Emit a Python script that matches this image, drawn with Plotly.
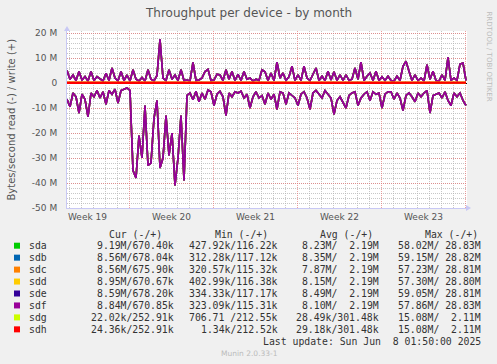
import pandas as pd
import plotly.graph_objects as go

# ---------------- data ----------------
devices = ["sda", "sdb", "sdc", "sdd", "sde", "sdf", "sdg", "sdh"]
colors = ["#00CC00", "#0066B3", "#FF8000", "#FFCC00", "#330099", "#990099", "#CCFF00", "#FF0000"]

# RAID member disks (sda..sdf) - MB/s, 6-hour samples; read is drawn negative
raid_read_mb = [
    -6.5, -9.5, -4.0, -5.5, -12.0, -4.5, -6.5, -13.5, -4.0, -5.5,
    -3.0, -6.0, -3.5, -8.5, -3.0, -4.5, -2.5, -8.0, -3.0, -2.5,
    -2.0, -3.0,
    -35, -38, -21, -30, -9, -33, -32, -14, -7, -34,
    -30, -13, -29, -20, -41, -30, -13, -39, -5,
    -4.0, -6.7, -3.3, -7.5, -4.0, -6.5, -2.8, -3.5, -9.0, -4.5,
    -3.3, -5.5, -13.0, -4.0, -5.5, -3.5, -4.0, -3.3, -6.0, -4.5,
    -10.0, -5.5, -3.5, -6.0, -5.0, -8.5, -4.0, -6.5, -4.5, -10.5,
    -3.5, -4.0, -8.5, -4.0, -5.0, -6.0, -9.0, -4.5, -3.5, -6.0,
    -10.5, -4.0, -3.0, -4.5, -6.0, -3.0, -4.5, -6.0, -12.5, -7.0,
    -5.5, -7.5, -10.0, -5.0, -4.0, -3.5, -9.0, -6.0, -4.5, -3.5,
    -7.0, -3.5, -4.5, -4.0, -10.0, -4.5, -3.5, -3.5, -6.5, -4.0,
    -6.0, -11.0, -5.0, -4.0, -5.5, -7.5, -4.0, -5.5, -4.0, -3.0,
    -12.0, -5.0, -4.5, -4.0, -6.0, -3.5, -7.0, -9.0, -4.0, -5.5,
    -4.0, -7.0, -9.0,
]
raid_write_mb = [
    5.0, 1.5, 3.2, 1.0, 4.6, 1.2, 2.6, 0.8, 4.6, 1.0,
    2.6, 1.5, 0.8, 3.9, 1.0, 6.0, 2.0, 0.8, 4.6, 1.0,
    3.2, 0.8, 5.3, 1.5, 0.8, 2.2, 0.8, 5.3, 1.5, 0.8,
    3.0, 17.5, 2.0, 1.0, 5.3, 1.5, 3.2, 1.0, 5.3, 1.0,
    1.2,
    0.8, 8.2, 1.0, 1.2, 2.0, 4.6, 5.5, 1.0, 1.2, 3.5,
    3.2, 1.0, 5.3, 1.5, 4.6, 1.0, 3.5, 1.0, 4.6, 1.5,
    2.0, 0.8, 1.5, 1.0, 5.3, 4.5, 1.0, 4.0, 1.0, 8.3,
    2.0, 4.0, 1.0, 2.5, 6.7, 1.0, 3.3, 1.0, 6.7, 2.0,
    1.0, 3.3, 6.0, 1.0, 2.7, 1.0, 4.7, 1.2, 4.5, 1.0,
    3.3, 1.0, 3.3, 1.0, 1.5, 6.0, 1.5, 8.3, 1.0, 2.7,
    4.0, 1.0, 4.7, 1.0, 2.5, 1.0, 2.7, 1.0, 0.8, 2.7,
    1.0, 6.7, 8.7, 4.7, 1.0, 3.3, 1.0, 2.0, 0.8, 7.3,
    1.5, 4.7, 1.0, 0.8, 3.3, 1.0, 10.3, 1.0, 2.0, 1.0,
    7.6, 8.0, 1.0,
]

# system disks (sdg, sdh) - MB/s, daily samples
sdg_read_mb = [-0.02, -0.03, -0.02, -0.03, -0.02, -0.03, -0.02, -0.03, -0.03, -0.02,
               -0.03, -0.02, -0.03, -0.02, -0.03, -0.02, -0.03, -0.02, -0.03, -0.02,
               -0.03, -0.02, -0.03, -0.02, -0.03, -0.02, -0.03, -0.02, -0.03, -0.02,
               -0.03, -0.02, -0.03, -0.02, -0.02]
sdg_write_mb = [0.30, 0.29, 0.31, 0.30, 0.30, 0.32, 0.29, 0.30, 0.31, 0.30,
                0.29, 0.30, 0.31, 0.30, 0.30, 0.29, 0.31, 0.30, 0.30, 0.32,
                0.30, 0.29, 0.30, 0.31, 0.30, 0.30, 0.29, 0.31, 0.30, 0.30,
                0.31, 0.30, 0.29, 0.30, 0.25]
sdh_read_mb = [-0.03, -0.02, -0.03, -0.03, -0.02, -0.03, -0.03, -0.03, -0.03, -0.02,
               -0.03, -0.03, -0.02, -0.03, -0.03, -0.02, -0.03, -0.03, -0.02, -0.03,
               -0.03, -0.02, -0.03, -0.03, -0.02, -0.03, -0.03, -0.02, -0.03, -0.03,
               -0.02, -0.03, -0.03, -0.02, -0.02]
sdh_write_mb = [0.30, 0.30, 0.29, 0.31, 0.30, 0.30, 0.32, 0.30, 0.29, 0.30,
                0.31, 0.30, 0.30, 0.29, 0.31, 0.30, 0.30, 0.32, 0.29, 0.30,
                0.30, 0.31, 0.30, 0.29, 0.30, 0.30, 0.31, 0.30, 0.30, 0.29,
                0.30, 0.31, 0.30, 0.30, 0.25]

# y ticks
y_tick_vals = [20, 10, 0, -10, -20, -30, -40, -50]
y_tick_text = ["20 M", "10 M", "0", "-10 M", "-20 M", "-30 M", "-40 M", "-50 M"]
week_labels = ["Week 19", "Week 20", "Week 21", "Week 22", "Week 23"]

# legend table (text)
cur_vals = ["9.19M/670.40k", "8.56M/678.04k", "8.56M/675.90k", "8.95M/670.67k",
            "8.59M/678.20k", "8.84M/670.85k", "22.02k/252.91k", "24.36k/252.91k"]
min_vals = ["427.92k/116.22k", "312.28k/117.12k", "320.57k/115.32k", "402.99k/116.38k",
            "334.33k/117.17k", "323.09k/115.31k", "706.71 /212.55k", "1.34k/212.52k"]
avg_vals = ["8.23M/  2.19M", "8.35M/  2.19M", "7.87M/  2.19M", "8.15M/  2.19M",
            "8.49M/  2.19M", "8.10M/  2.19M", "28.49k/301.48k", "29.18k/301.48k"]
max_vals = ["58.02M/ 28.83M", "59.15M/ 28.82M", "57.23M/ 28.81M", "57.30M/ 28.80M",
            "59.05M/ 28.81M", "57.86M/ 28.83M", "15.08M/  2.11M", "15.08M/  2.11M"]
headers = ["Cur (-/+)", "Min (-/+)", "Avg (-/+)", "Max (-/+)"]
last_update = "Last update: Sun Jun  8 01:50:00 2025"
title_text = "Throughput per device - by month"
y_title = "Bytes/second read (-) / write (+)"
side_text = "RRDTOOL / TOBI OETIKER"
footer_text = "Munin 2.0.33-1"

# ---------------- time axes ----------------
t_raid = pd.date_range("2025-05-05 19:30", periods=len(raid_read_mb), freq="6h")
t_small = pd.date_range(end="2025-06-08 01:30", periods=len(sdh_read_mb), freq="D")
week_centers = pd.date_range("2025-05-07 12:00", periods=len(week_labels), freq="7D")
x_range = ["2025-05-05 19:30", "2025-06-08 03:30"]

# ---------------- layout geometry (pixels) ----------------
W, H = 497, 364
L, R, T, B = 67, 467, 31, 208


def xp(px):
    return (px - L) / (R - L)


def yp(py):
    return (B - py) / (B - T)


def nb(s):
    return s.replace(" ", "\u00a0")


fig = go.Figure()

series = {}
for d in devices[:6]:
    series[d] = (t_raid, raid_read_mb, raid_write_mb)
series["sdg"] = (t_small, sdg_read_mb, sdg_write_mb)
series["sdh"] = (t_small, sdh_read_mb, sdh_write_mb)

for d, c in zip(devices, colors):
    tx, rd, wr = series[d]
    lw = 1.6
    fig.add_trace(go.Scatter(x=tx, y=rd, mode="lines", line=dict(color=c, width=lw),
                             name=d, showlegend=False, hoverinfo="skip"))
    fig.add_trace(go.Scatter(x=tx, y=wr, mode="lines", line=dict(color=c, width=lw),
                             name=d, showlegend=False, hoverinfo="skip"))

minor_grid = "rgba(180,180,180,0.75)"
major_grid = "rgba(230,120,120,0.7)"
axis_line = "#C8C8F4"
tick_font = dict(family="DejaVu Sans", size=9, color="#555555")

fig.update_layout(
    width=W, height=H,
    margin=dict(l=L, r=W - R, t=T, b=H - B, pad=0),
    paper_bgcolor="#F0F0F0",
    plot_bgcolor="#FFFFFF",
    showlegend=False,
    xaxis=dict(
        type="date", range=x_range,
        tickmode="linear", tick0="2025-05-04", dtick=7 * 86400000,
        showticklabels=False, ticks="",
        showgrid=True, gridcolor=major_grid, griddash="1px,1px", gridwidth=1,
        minor=dict(tickmode="linear", tick0="2025-05-04", dtick=86400000,
                   showgrid=True, gridcolor=minor_grid, griddash="1px,1px", ticks=""),
        showline=True, linecolor=axis_line, linewidth=1,
        zeroline=False, fixedrange=True,
    ),
    yaxis=dict(
        range=[-50, 20.8],
        tickmode="array", tickvals=y_tick_vals, ticktext=y_tick_text,
        tickfont=tick_font, ticks="", ticklabelstandoff=7,
        showgrid=True, gridcolor=major_grid, griddash="1px,1px", gridwidth=1,
        minor=dict(tickmode="linear", tick0=0, dtick=2,
                   showgrid=True, gridcolor=minor_grid, griddash="1px,1px", ticks=""),
        showline=True, linecolor=axis_line, linewidth=1,
        zeroline=True, zerolinecolor="#000000", zerolinewidth=1, fixedrange=True,
    ),
)

ann = []
# week labels
for lab, tc in zip(week_labels, week_centers):
    ann.append(dict(x=tc, xref="x", y=yp(216.5), yref="paper", text=lab, showarrow=False,
                    xanchor="center", yanchor="middle", font=tick_font))
# title
ann.append(dict(x=xp(248), y=yp(13), xref="paper", yref="paper", text=title_text,
                showarrow=False, xanchor="center", yanchor="middle",
                font=dict(family="DejaVu Sans", size=12, color="#555555")))
# y title
ann.append(dict(x=xp(11.5), y=yp(120), xref="paper", yref="paper", text=y_title,
                showarrow=False, xanchor="center", yanchor="middle", textangle=-90,
                font=dict(family="DejaVu Sans", size=10, color="#555555")))
# side text
ann.append(dict(x=xp(488.5), y=yp(56), xref="paper", yref="paper", text=side_text,
                showarrow=False, xanchor="center", yanchor="middle", textangle=90,
                font=dict(family="DejaVu Sans", size=7, color="#BBBBBB")))
# footer
ann.append(dict(x=xp(249), y=yp(353), xref="paper", yref="paper", text=footer_text,
                showarrow=False, xanchor="center", yanchor="middle",
                font=dict(family="DejaVu Sans", size=7.5, color="#BBBBBB")))

mono = dict(family="DejaVu Sans Mono", size=9.8, color="#333333")
header_x = [107, 213, 318, 423]
for h, hx in zip(headers, header_x):
    ann.append(dict(x=xp(hx), y=yp(234), xref="paper", yref="paper", text=nb(h),
                    showarrow=False, xanchor="left", yanchor="middle", font=mono))

col_right = [176, 279.5, 381, 483]
shapes = []
for k, d in enumerate(devices):
    cy = 245.7 + 11.95 * k
    shapes.append(dict(type="rect", xref="paper", yref="paper",
                       x0=xp(14), x1=xp(20), y0=yp(cy - 3), y1=yp(cy + 3),
                       fillcolor=colors[k], line=dict(width=0)))
    ann.append(dict(x=xp(27), y=yp(cy), xref="paper", yref="paper", text=d,
                    showarrow=False, xanchor="left", yanchor="middle", font=mono))
    for vals, rx in zip([cur_vals, min_vals, avg_vals, max_vals], col_right):
        ann.append(dict(x=xp(rx), y=yp(cy), xref="paper", yref="paper", text=nb(vals[k]),
                        showarrow=False, xanchor="right", yanchor="middle", font=mono))
ann.append(dict(x=xp(483), y=yp(341), xref="paper", yref="paper", text=nb(last_update),
                showarrow=False, xanchor="right", yanchor="middle", font=mono))

# axis arrows
shapes.append(dict(type="path", xref="paper", yref="paper",
                   path=f"M {xp(64)} {yp(31)} L {xp(70)} {yp(31)} L {xp(67)} {yp(26)} Z",
                   fillcolor=axis_line, line=dict(width=0)))
shapes.append(dict(type="path", xref="paper", yref="paper",
                   path=f"M {xp(466)} {yp(205)} L {xp(466)} {yp(211)} L {xp(471)} {yp(208)} Z",
                   fillcolor=axis_line, line=dict(width=0)))

fig.update_layout(annotations=ann, shapes=shapes)
fig.write_html(
    "out.html",
    config={"displayModeBar": False, "staticPlot": True},
    post_script="document.body.style.margin='0';document.body.style.padding='0';"
                "document.body.style.overflow='hidden';",
)
